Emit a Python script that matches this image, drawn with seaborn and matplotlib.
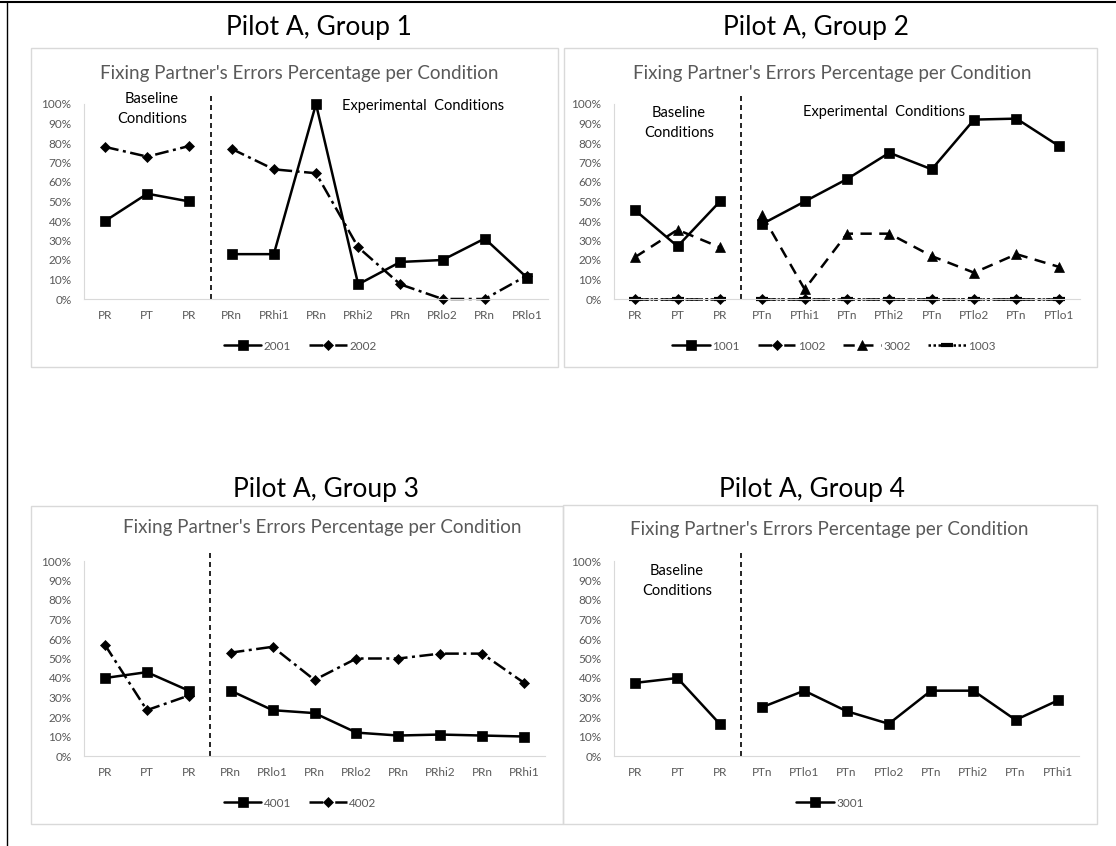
import matplotlib

matplotlib.use("Agg")
import matplotlib.pyplot as plt
import pandas as pd
import seaborn as sns
from matplotlib.lines import Line2D
from matplotlib.patches import Rectangle

# ---- data (percent) ----
g1_labels = ["PR", "PT", "PR", "PRn", "PRhi1", "PRn", "PRhi2", "PRn", "PRlo2", "PRn", "PRlo1"]
g1_2001 = [40, 54, 50, 23, 23, 100, 7.5, 19, 20, 31, 11]
g1_2002 = [78, 73, 78.5, 77, 66.5, 64.5, 26.5, 7.5, 0, 0, 12]

g2_labels = ["PR", "PT", "PR", "PTn", "PThi1", "PTn", "PThi2", "PTn", "PTlo2", "PTn", "PTlo1"]
g2_1001 = [45.5, 27, 50, 38.5, 50, 61.5, 75, 66.5, 92, 92.5, 78.5]
g2_1002 = [0, 0, 0, 0, 0, 0, 0, 0, 0, 0, 0]
g2_3002 = [21.5, 35.5, 26.5, 43, 5, 33.5, 33.5, 22, 13.5, 23, 16.5]
g2_1003 = [0, 0, 0, 0, 0, 0, 0, 0, 0, 0, 0]

g3_labels = ["PR", "PT", "PR", "PRn", "PRlo1", "PRn", "PRlo2", "PRn", "PRhi2", "PRn", "PRhi1"]
g3_4001 = [40, 43, 33.5, 33.5, 23.5, 22, 12, 10.5, 11, 10.5, 10]
g3_4002 = [57, 23.5, 31, 53, 56, 39, 50, 50, 52.5, 52.5, 37.5]

g4_labels = ["PR", "PT", "PR", "PTn", "PTlo1", "PTn", "PTlo2", "PTn", "PThi2", "PTn", "PThi1"]
g4_3001 = [37.5, 40, 16.5, 25, 33.5, 23, 16.5, 33.5, 33.5, 18.5, 28.5]

n_baseline = 3
chart_title = "Fixing Partner's Errors Percentage per Condition"

W, H = 1116, 846
GREY = "#595959"
LIGHT = "#d9d9d9"

SOLID_SQ = dict(marker="s", markersize=7.5, linestyle="-")
DASHDOT_D = dict(marker="D", markersize=5, linestyle=(0, (5.5, 1.8, 1.2, 1.8)))
DASH_TRI = dict(marker="^", markersize=7, linestyle=(0, (4.5, 3)))
DOT_BAR = dict(marker="_", markersize=8, markeredgewidth=3, linestyle=(0, (1, 1)))

sns.set_theme(style="white")
plt.rcParams["font.family"] = ["Lato", "DejaVu Sans"]

fig = plt.figure(figsize=(W / 100, H / 100), dpi=100)


def fx(x):
    return x / W


def fy(y):
    return 1 - y / H


def add_box(x0, y0, x1, y1):
    fig.add_artist(
        Rectangle((fx(x0), fy(y1)), (x1 - x0) / W, (y1 - y0) / H,
                  transform=fig.transFigure, fill=False, ec=LIGHT, lw=1.0)
    )


def draw_chart(plot, labels, series, title_xy, legend_xy, baseline_xy=None, experimental_xy=None):
    x0, y0, x1, y1 = plot
    ax = fig.add_axes([fx(x0), fy(y1), (x1 - x0) / W, (y1 - y0) / H])
    ax.set_facecolor("none")

    rows = []
    for name, values, _ in series:
        for i, v in enumerate(values):
            rows.append({"series": name, "pos": i, "value": v,
                         "phase": "baseline" if i < n_baseline else "experimental"})
    df = pd.DataFrame(rows)

    handles = []
    for name, _, style in series:
        sub = df[df["series"] == name]
        extra = dict(style)
        extra.setdefault("markeredgewidth", 0.5)
        sns.lineplot(data=sub, x="pos", y="value", units="phase", estimator=None,
                     sort=False, color="black", lw=1.8, markeredgecolor="black",
                     markerfacecolor="black", clip_on=False, legend=False, ax=ax, **extra)
        handles.append(Line2D([], [], color="black", lw=1.8, markeredgecolor="black",
                              markerfacecolor="black", label=name, **extra))

    ax.axvline(n_baseline - 0.5, ymin=0, ymax=1.045, color="black", lw=1.2,
               linestyle=(0, (3, 2.4)), clip_on=False)

    ax.set_xlim(-0.5, len(labels) - 0.5)
    ax.set_ylim(0, 100)
    ax.set_xticks(range(len(labels)))
    ax.set_xticklabels(labels)
    ax.set_yticks(range(0, 101, 10))
    ax.set_yticklabels([f"{v}%" for v in range(0, 101, 10)])
    ax.set_xlabel("")
    ax.set_ylabel("")
    ax.tick_params(axis="both", length=0, labelsize=8.5, labelcolor=GREY)
    ax.tick_params(axis="y", pad=9)
    ax.tick_params(axis="x", pad=8)
    for side in ("top", "right"):
        ax.spines[side].set_visible(False)
    for side in ("left", "bottom"):
        ax.spines[side].set_color(LIGHT)
        ax.spines[side].set_linewidth(0.8)

    fig.text(fx(title_xy[0]), fy(title_xy[1]), chart_title, ha="center", va="center",
             fontsize=13.5, color=GREY)
    if baseline_xy:
        fig.text(fx(baseline_xy[0]), fy(baseline_xy[1]), "Baseline\nConditions",
                 ha="center", va="center", fontsize=10.5, color="black", linespacing=1.5)
    if experimental_xy:
        fig.text(fx(experimental_xy[0]), fy(experimental_xy[1]), "Experimental  Conditions",
                 ha="center", va="center", fontsize=10.5, color="black")

    fig.legend(handles=handles, loc="center", bbox_to_anchor=(fx(legend_xy[0]), fy(legend_xy[1])),
               bbox_transform=fig.transFigure, ncol=len(handles), frameon=False,
               fontsize=8.5, labelcolor=GREY, handlelength=3.2, handletextpad=0.2,
               columnspacing=1.5, numpoints=1)
    return ax


# page border fragments
fig.add_artist(Line2D([0, 1], [fy(2), fy(2)], transform=fig.transFigure, color="black", lw=1.5))
fig.add_artist(Line2D([fx(7), fx(7)], [fy(2), 0], transform=fig.transFigure, color="black", lw=1.0))

# chart boxes
add_box(31, 48, 558, 367)
add_box(564, 48, 1097, 367)
add_box(31, 506, 563, 824)
add_box(563, 505, 1097, 824)

# group headings
for label, x, y in [("Pilot A, Group 1", 319, 27), ("Pilot A, Group 2", 816, 27),
                    ("Pilot A, Group 3", 326, 489), ("Pilot A, Group 4", 812, 489)]:
    fig.text(fx(x), fy(y), label, ha="center", va="center", fontsize=19, color="black")

draw_chart((84, 104, 548, 299), g1_labels,
           [("2001", g1_2001, SOLID_SQ), ("2002", g1_2002, DASHDOT_D)],
           title_xy=(299, 74), legend_xy=(300, 346),
           baseline_xy=(152, 109), experimental_xy=(423, 106))

draw_chart((614, 104, 1080, 299), g2_labels,
           [("1001", g2_1001, SOLID_SQ), ("1002", g2_1002, DASHDOT_D),
            ("3002", g2_3002, DASH_TRI), ("1003", g2_1003, DOT_BAR)],
           title_xy=(832, 74), legend_xy=(834, 346),
           baseline_xy=(679, 123), experimental_xy=(884, 112))

draw_chart((84, 561, 545, 756), g3_labels,
           [("4001", g3_4001, SOLID_SQ), ("4002", g3_4002, DASHDOT_D)],
           title_xy=(322, 528), legend_xy=(300, 803))

draw_chart((614, 561, 1079, 756), g4_labels,
           [("3001", g4_3001, SOLID_SQ)],
           title_xy=(829, 530), legend_xy=(830, 803),
           baseline_xy=(677, 581))

fig.savefig("out.png", dpi=100)
